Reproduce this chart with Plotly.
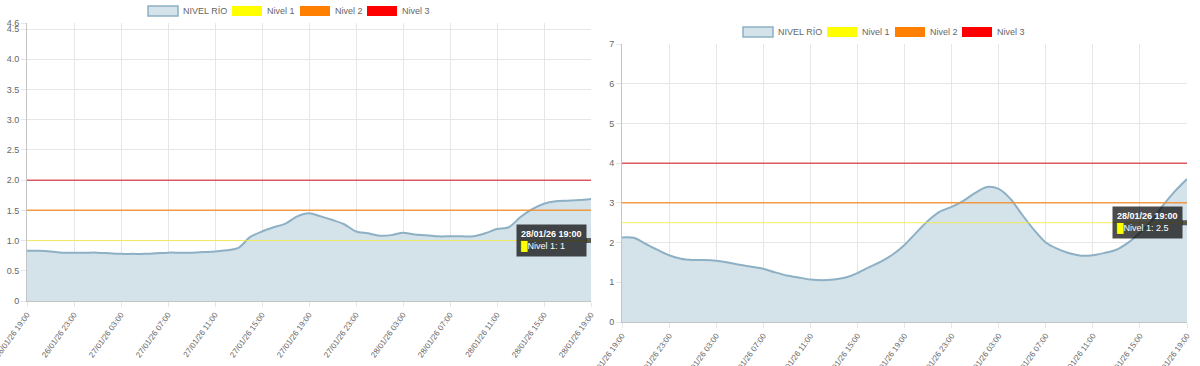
import plotly.graph_objects as go
import pandas as pd

# ---------------- data ----------------
times = pd.date_range("2026-01-26 19:00", "2026-01-28 19:00", freq="h")

left_rio = [0.83, 0.83, 0.82, 0.80, 0.80, 0.80, 0.80, 0.79, 0.78, 0.78,
            0.78, 0.79, 0.80, 0.80, 0.80, 0.81, 0.82, 0.84, 0.88, 1.06,
            1.15, 1.22, 1.28, 1.40, 1.45, 1.40, 1.34, 1.27, 1.15, 1.12,
            1.08, 1.09, 1.13, 1.10, 1.09, 1.07, 1.07, 1.07, 1.07, 1.12,
            1.19, 1.22, 1.39, 1.52, 1.61, 1.65, 1.66, 1.67, 1.69]

right_rio = [2.13, 2.12, 1.97, 1.82, 1.68, 1.59, 1.56, 1.56, 1.54, 1.50,
             1.44, 1.39, 1.34, 1.25, 1.17, 1.12, 1.07, 1.05, 1.07, 1.12,
             1.23, 1.38, 1.52, 1.70, 1.94, 2.25, 2.55, 2.78, 2.90, 3.05,
             3.25, 3.40, 3.35, 3.10, 2.70, 2.32, 2.00, 1.84, 1.73, 1.67,
             1.68, 1.74, 1.82, 2.00, 2.25, 2.55, 2.95, 3.30, 3.60]

left_levels = [1.0, 1.5, 2.0]
right_levels = [2.5, 3.0, 4.0]
level_names = ["Nivel 1", "Nivel 2", "Nivel 3"]
rio_name = "NIVEL RÍO"

left_yticks = [0, 0.5, 1.0, 1.5, 2.0, 2.5, 3.0, 3.5, 4.0, 4.5, 4.6]
left_yticktext = ["0", "0.5", "1.0", "1.5", "2.0", "2.5", "3.0", "3.5", "4.0", "4.5", "4.6"]
right_yticks = [0, 1, 2, 3, 4, 5, 6, 7]
right_yticktext = ["0", "1", "2", "3", "4", "5", "6", "7"]

tooltip_title = "28/01/26 19:00"

# ---------------- styles ----------------
W, H = 1200, 366
FONT = "Liberation Sans, Arial, sans-serif"
TXT = "#666666"
GRID = "#e6e6e6"
RIO_LINE = "#8db0c5"
RIO_FILL = "#d4e2ea"
level_line_colors = ["rgba(245,235,60,0.8)", "rgba(245,140,40,0.85)", "rgba(215,40,50,0.75)"]
level_line_widths = [1, 1.5, 1.5]
level_box_colors = ["#ffff00", "#ff8000", "#ff0000"]

def px(x):
    return x / W

def py(y):
    return 1 - y / H

fig = go.Figure()

panels = [
    dict(rio=left_rio, levels=left_levels, xa="x", ya="y"),
    dict(rio=right_rio, levels=right_levels, xa="x2", ya="y2"),
]

for p in panels:
    fig.add_trace(go.Scatter(
        x=times, y=p["rio"], name=rio_name, mode="lines",
        line=dict(color=RIO_LINE, width=2, shape="spline", smoothing=0.8),
        fill="tozeroy", fillcolor=RIO_FILL,
        xaxis=p["xa"], yaxis=p["ya"], showlegend=False, hoverinfo="skip"))
    for name, lv, col, lw in zip(level_names, p["levels"], level_line_colors, level_line_widths):
        fig.add_trace(go.Scatter(
            x=times, y=[lv] * len(times), name=name, mode="lines",
            line=dict(color=col, width=lw),
            xaxis=p["xa"], yaxis=p["ya"], showlegend=False, hoverinfo="skip"))

xcommon = dict(
    type="date", range=[times[0], times[-1]],
    tick0=times[0], dtick=4 * 3600 * 1000, tickformat="%d/%m/%y %H:%M",
    tickangle=-54, showgrid=True, gridcolor=GRID, gridwidth=1,
    ticks="outside", ticklen=5, tickcolor=GRID,
    showline=True, linecolor="#c4c4c4", linewidth=1,
    tickfont=dict(family=FONT, size=8, color=TXT), zeroline=False,
    fixedrange=True, automargin=False, ticklabeloverflow="allow",
)
ycommon = dict(
    showgrid=True, gridcolor=GRID, gridwidth=1,
    ticks="outside", ticklen=5, tickcolor=GRID,
    showline=True, linecolor="#c4c4c4", linewidth=1,
    tickfont=dict(family=FONT, size=9, color=TXT), zeroline=False,
    tickmode="array", fixedrange=True, automargin=False, ticklabeloverflow="allow",
)

fig.update_layout(
    width=W, height=H, margin=dict(l=0, r=0, t=0, b=0, autoexpand=False),
    paper_bgcolor="white", plot_bgcolor="white", showlegend=False,
    xaxis=dict(domain=[px(27), px(591)], anchor="y", **xcommon),
    yaxis=dict(domain=[py(301), py(23)], anchor="x", range=[0, 4.6],
               tickvals=left_yticks, ticktext=left_yticktext, **ycommon),
    xaxis2=dict(domain=[px(622), px(1187)], anchor="y2", **xcommon),
    yaxis2=dict(domain=[py(322), py(44)], anchor="x2", range=[0, 7],
                tickvals=right_yticks, ticktext=right_yticktext, **ycommon),
)

# ---------------- manual Chart.js-style legends ----------------
shapes = []
annotations = []
legend_labels = [rio_name] + level_names
legend_fill = [RIO_FILL] + level_box_colors
legend_border = [RIO_LINE] + level_box_colors
box_x = [148, 232, 300, 367]
for dx, ytop in [(0, 6), (595, 27)]:
    for lbl, fc, bc, bx in zip(legend_labels, legend_fill, legend_border, box_x):
        x0 = bx + dx
        shapes.append(dict(type="rect", xref="paper", yref="paper",
                           x0=px(x0), x1=px(x0 + 30), y0=py(ytop + 10), y1=py(ytop),
                           fillcolor=fc, line=dict(color=bc, width=1.5 if lbl == rio_name else 0)))
        annotations.append(dict(xref="paper", yref="paper", x=px(x0 + 33), y=py(ytop + 5),
                                text=lbl, showarrow=False, xanchor="left", yanchor="middle",
                                font=dict(family=FONT, size=9, color=TXT)))

# ---------------- tooltips ----------------
for p, xr, yr in [(panels[0], "x", "y"), (panels[1], "x2", "y2")]:
    v = p["levels"][0]
    annotations.append(dict(
        xref=xr, yref=yr, x=times[-1], y=v,
        text=(f"<b>{tooltip_title}</b><br>"
              f"<span style='color:#ffff00'>█</span>{level_names[0]}: {v:g}"),
        showarrow=True, ax=-40, ay=0, arrowhead=0, arrowwidth=5,
        arrowcolor="rgba(0,0,0,0.6)", standoff=0,
        bgcolor="rgba(0,0,0,0.7)", borderpad=4, align="left",
        font=dict(family=FONT, size=9, color="white")))

fig.update_layout(shapes=shapes, annotations=annotations)

fig.write_html("out.html", config={"displayModeBar": False},
               post_script="document.body.style.margin='0';document.body.style.overflow='hidden';")
